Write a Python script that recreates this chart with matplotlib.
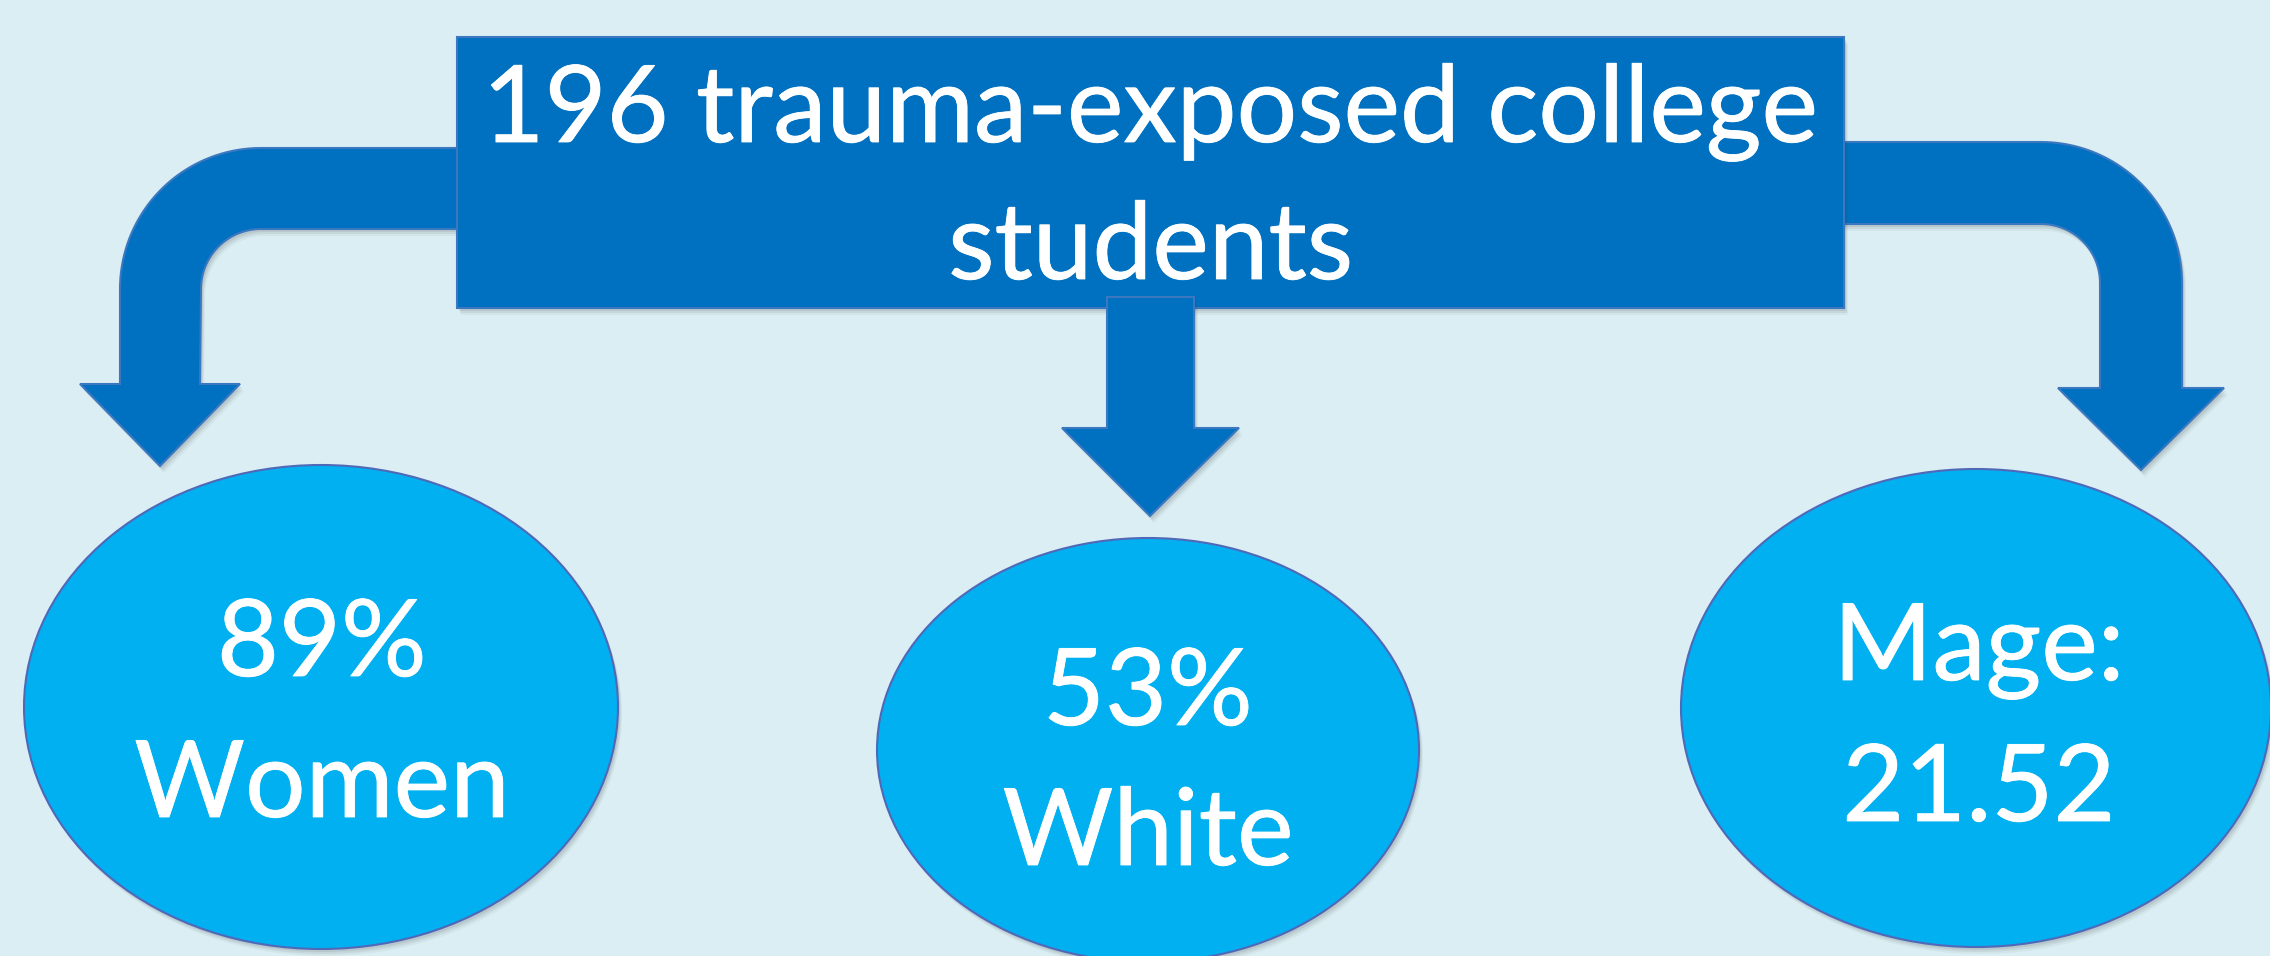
import numpy as np
import matplotlib
matplotlib.use("Agg")
import matplotlib.pyplot as plt
import matplotlib.patheffects as pe
from matplotlib.patches import Rectangle, Ellipse, Polygon

# ---- figures shown on the diagram ----
sample_size = 196
sample_desc = "trauma-exposed college"
sample_unit = "students"
pct_women = 89
pct_white = 53
mean_age = 21.52

top_lines = [f"{pct_women}%", f"{pct_white}%", "Mage:"]
bottom_lines = ["Women", "White", f"{mean_age:.2f}"]

# ---- styling ----
W, H = 2270, 956
BG = "#DAEEF3"
DARK = "#0070C0"
LIGHT = "#00B0F0"
ARROW_EDGE = "#3C78C0"
BUBBLE_EDGE = "#5068B8"
FONT = ["Lato", "DejaVu Sans"]
FS_HEAD = 77
FS_BUBBLE = 77
THICKEN = [pe.withStroke(linewidth=0.6, foreground="white")]

fig = plt.figure(figsize=(W / 100, H / 100), dpi=100)
fig.patch.set_facecolor(BG)
ax = fig.add_axes([0, 0, 1, 1])
ax.set_xlim(0, W)
ax.set_ylim(H, 0)
ax.set_facecolor(BG)
ax.axis("off")


def shadowed(patch_factory, z):
    """Add a soft drop shadow (stacked offset copies) and then the shape."""
    for dx, dy, a in [(2, 3, 0.10), (3, 5, 0.08), (4, 7, 0.05)]:
        sh = patch_factory(dx, dy)
        sh.set_facecolor("#404040")
        sh.set_edgecolor("none")
        sh.set_alpha(a)
        sh.set_zorder(z - 0.5)
        ax.add_patch(sh)
    p = patch_factory(0, 0)
    p.set_zorder(z)
    ax.add_patch(p)
    return p


def bent_arrow(x_start, band_top, band_bot, shaft_a, shaft_b, head_y,
               head_a, head_b, tip, direction, r_out=141):
    """Bent arrow: horizontal band, rounded corner, vertical shaft, head.

    direction=-1 bends to the left, +1 bends to the right.
    """
    if direction < 0:
        outer_x, inner_x = shaft_a, shaft_b
        head_first, head_last = head_a, head_b
    else:
        outer_x, inner_x = shaft_b, shaft_a
        head_first, head_last = head_b, head_a
    width = band_bot - band_top
    r_in = r_out - width
    cx = outer_x - direction * r_out
    cy = band_top + r_out
    th = np.linspace(0, np.pi / 2, 40)
    outer = np.column_stack([cx + direction * r_out * np.sin(th),
                             cy - r_out * np.cos(th)])
    inner = np.column_stack([cx + direction * r_in * np.sin(th[::-1]),
                             cy - r_in * np.cos(th[::-1])])
    pts = [(x_start, band_top)]
    pts += outer.tolist()
    pts += [(outer_x, head_y), (head_first, head_y), tip,
            (head_last, head_y), (inner_x, head_y)]
    pts += inner.tolist()
    pts += [(x_start, band_bot)]
    return np.array(pts)


left_pts = bent_arrow(470, 148, 229, 120, 200, 384, 80, 240, (160, 466), -1)
right_pts = bent_arrow(1830, 142, 224, 2100, 2182, 388, 2058, 2224, (2141, 470), 1)

for pts in (left_pts, right_pts):
    shadowed(lambda dx, dy, p=pts: Polygon(p + [dx, dy], closed=True,
                                            facecolor=DARK, edgecolor=ARROW_EDGE,
                                            linewidth=1.5), 2)

# header box
bx0, by0, bx1, by1 = 457, 37, 1844, 308
shadowed(lambda dx, dy: Rectangle((bx0 + dx, by0 + dy), bx1 - bx0, by1 - by0,
                                  facecolor=DARK, edgecolor=ARROW_EDGE,
                                  linewidth=1.5), 3)

for txt, yb in [(f"{sample_size} {sample_desc}", 142), (sample_unit, 279)]:
    ax.text((bx0 + bx1) / 2, yb, txt, color="white", fontsize=FS_HEAD,
            family=FONT, ha="center", va="baseline", zorder=6,
            path_effects=THICKEN)

# straight centre arrow
centre_pts = np.array([(1107, 297), (1194, 297), (1194, 428), (1239, 428),
                       (1150, 516), (1062, 428), (1107, 428)])
shadowed(lambda dx, dy: Polygon(centre_pts + [dx, dy], closed=True,
                                facecolor=DARK, edgecolor=ARROW_EDGE,
                                linewidth=1.5), 4)

# result bubbles
bubbles = [
    dict(cx=321, cy=707, w=594, h=484, tx=322, y_top=676, y_bot=817),
    dict(cx=1148, cy=750, w=542, h=424, tx=1148, y_top=725, y_bot=865),
    dict(cx=1976, cy=708, w=590, h=478, tx=1979, y_top=680, y_bot=821),
]
for b, t1, t2 in zip(bubbles, top_lines, bottom_lines):
    shadowed(lambda dx, dy, b=b: Ellipse((b["cx"] + dx, b["cy"] + dy), b["w"], b["h"],
                                         facecolor=LIGHT, edgecolor=BUBBLE_EDGE,
                                         linewidth=1.5), 5)
    for txt, yb in [(t1, b["y_top"]), (t2, b["y_bot"])]:
        ax.text(b["tx"], yb, txt, color="white", fontsize=FS_BUBBLE, family=FONT,
                ha="center", va="baseline", zorder=6, path_effects=THICKEN)

fig.savefig("out.png", dpi=100, facecolor=BG)
